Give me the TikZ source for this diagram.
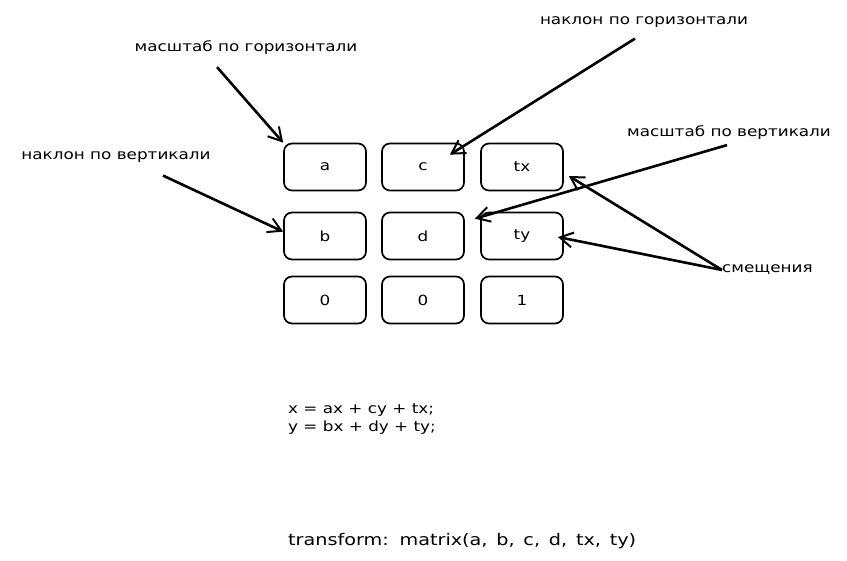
\documentclass[tikz,border=0pt]{standalone}
\usepackage{fontspec}
\setmainfont{DejaVu Sans}[FakeStretch=1.2]
\usetikzlibrary{arrows.meta,calc}
\tikzset{
	cell/.style={draw, line width=1.7pt, rounded corners=8pt, minimum width=82pt, minimum height=47pt, font=\fontsize{14}{16}\selectfont},
	note/.style={font=\fontsize{14}{16}\selectfont, inner sep=0pt},
	pointer/.style={-{Straight Barb[length=13pt,width=15pt,line width=2pt]}, line width=2.6pt},
}
\begin{document}
\begin{tikzpicture}[x=1pt, y=-1pt]
\useasboundingbox (0,0) rectangle (847,561);
% Matrix-Zellen
\node[cell] (a) at (325,167) {a};
\node[cell] (c) at (423,167) {c};
\node[cell] (tx) at (522,167) {tx};
\node[cell] (b) at (325,236) {b};
\node[cell] (d) at (423,236) {d};
\node[cell] (ty) at (522,236) {ty};
\node[cell] (zeroA) at (325,300) {0};
\node[cell] (zeroB) at (423,300) {0};
\node[cell] (one) at (522,300) {1};

% Beschriftungen
\node[note] (scaleX) at (246,48) {масштаб по горизонтали};
\node[note] (skewX) at (644,22) {наклон по горизонтали};
\node[note] (scaleY) at (729,133) {масштаб по вертикали};
\node[note] (skewY) at (116,157) {наклон по вертикали};
\node[note, anchor=west] (shift) at (722,270) {смещения};

% Pfeile
\draw[pointer] ($(scaleX.south)+(-29,12)$) -- (a.north west);
\draw[pointer] ($(skewY.south)+(47,13)$) -- ($(b.north west)+(0,20)$);
\draw[pointer] ($(skewX.south)+(-9,11)$) -- ($(c.north east)+(-15,12)$);
\draw[pointer] ($(scaleY.south)+(-2,5)$) -- ($(d.north east)+(10,7)$);
\draw[pointer] (shift.west) -- ($(tx.east)+(5,9)$);
\draw[pointer] (shift.west) -- ($(ty.east)+(-6,1)$);

% Formeln
\node[note, anchor=north west, align=left] (eqs) at (288,403) {x = ax + cy + tx;\\[2pt] y = bx + dy + ty;};
\node[note, anchor=west, font=\fontsize{16}{18}\selectfont] (call) at (288,541) {\spaceskip=0.55em plus 0.1em\relax transform: matrix(a, b, c, d, tx, ty)};
\end{tikzpicture}
\end{document}
